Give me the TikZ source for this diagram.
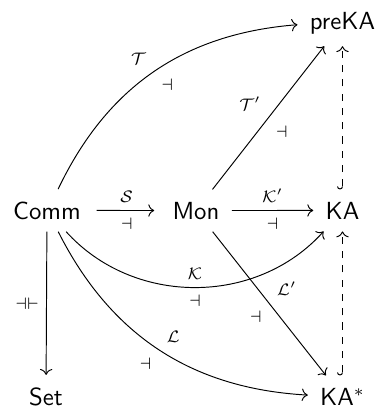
\documentclass[tikz,border=0pt]{standalone}
\usetikzlibrary{arrows.meta}
\begin{document}
\begin{tikzpicture}[x=0.42pt,y=-0.42pt,
  obj/.style={font=\fontsize{10.4}{12}\selectfont\sffamily, inner sep=5pt, anchor=base},
  arr/.style={-{Computer Modern Rightarrow}},
  hookarr/.style={dashed, {Hooks[right]}-{Computer Modern Rightarrow}},
  lbl/.style={inner sep=3pt, auto},
  lblsw/.style={inner sep=3pt, auto, swap}]
\useasboundingbox (0,0) rectangle (375,416);
\node[obj] (Comm) at (47,219) {Comm};
\node[obj] (Mon) at (196,219) {Mon};
\node[obj] (KA) at (342.5,219) {KA};
\node[obj] (preKA) at (342.5,29) {preKA};
\node[obj] (Set) at (46,405) {Set};
\node[obj] (KAs) at (342.5,405) {KA$^*$};
\draw[arr, shorten <=1.5pt, shorten >=2.5pt] (Comm) -- node[lbl] {$\scriptstyle\mathcal{S}$} node[lblsw] {$\scriptstyle\dashv$} (Mon);
\draw[arr] (Mon) -- node[lbl] {$\scriptstyle\mathcal{K}'$} node[lblsw] {$\scriptstyle\dashv$} (KA);
\draw[arr] (Comm) to[bend left=30] node[lbl] {$\scriptstyle\mathcal{T}$} node[lblsw] {$\scriptstyle\dashv$} (preKA);
\draw[arr] (Mon) -- node[lbl] {$\scriptstyle\mathcal{T}'$} node[lblsw] {$\scriptstyle\dashv$} (preKA);
\draw[arr] (Comm) to[bend right=48] node[lbl] {$\scriptstyle\mathcal{K}$} node[lblsw] {$\scriptstyle\dashv$} (KA);
\draw[arr] (Mon) -- node[lbl] {$\scriptstyle\mathcal{L}'$} node[lblsw] {$\scriptstyle\dashv$} (KAs);
\draw[arr] (Comm) to[bend right=30] node[lbl] {$\scriptstyle\mathcal{L}$} node[lblsw] {$\scriptstyle\dashv$} (KAs);
\draw[arr] (Comm) -- node[lblsw] {$\scriptstyle\dashv\vdash$} (Set);
\draw[hookarr] (KA) -- (preKA);
\draw[hookarr] (KAs) -- (KA);
\end{tikzpicture}
\end{document}
